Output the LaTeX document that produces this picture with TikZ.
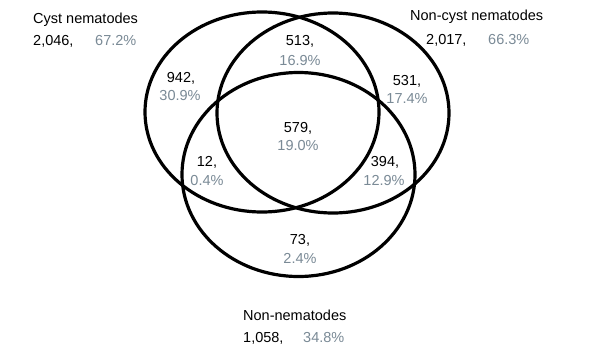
\documentclass[tikz,border=0pt]{standalone}
\usepackage{fontspec}
\setmainfont{Liberation Sans}
\definecolor{pctgrey}{RGB}{122,138,150}
\begin{document}
\begin{tikzpicture}[x=1pt,y=-1pt,
  setring/.style={draw=black,line width=3.2pt},
  lbl/.style={font=\fontsize{14.5}{17}\selectfont,inner sep=0pt,anchor=base},
  lblw/.style={lbl,anchor=base west},
  pct/.style={text=pctgrey}]
\useasboundingbox (0,0) rectangle (600,351);
\fill[white] (0,0) rectangle (600,351);
% sets
\draw[setring] (262,112) ellipse [x radius=117, y radius=100];
\draw[setring] (333,113) ellipse [x radius=116, y radius=100];
\draw[setring] (298.5,174.5) ellipse [x radius=116.5, y radius=102];
% set titles
\node[lblw] (tcyst) at (33,23) {Cyst nematodes};
\node[lblw] (ncyst) at (33,45) {2,046,};
\node[lblw,pct] (pcyst) at (95,45) {67.2\%};
\node[lblw] (tnon) at (410,20.5) {Non-cyst nematodes};
\node[lblw] (nnon) at (426,44) {2,017,};
\node[lblw,pct] (pnon) at (488,44) {66.3\%};
\node[lblw] (tnn) at (243,320) {Non-nematodes};
\node[lblw] (nnn) at (243,342) {1,058,};
\node[lblw,pct] (pnn) at (303,342) {34.8\%};
% regions
\node[lbl] (a1) at (300,45) {513,};
\node[lbl,pct] (a2) at (300,65) {16.9\%};
\node[lbl] (b1) at (181,82) {942,};
\node[lbl,pct] (b2) at (180,100) {30.9\%};
\node[lbl] (c1) at (407,85) {531,};
\node[lbl,pct] (c2) at (407,103) {17.4\%};
\node[lbl] (d1) at (298,132) {579,};
\node[lbl,pct] (d2) at (298,150) {19.0\%};
\node[lbl] (e1) at (207,166) {12,};
\node[lbl,pct] (e2) at (207,185) {0.4\%};
\node[lbl] (f1) at (385,166) {394,};
\node[lbl,pct] (f2) at (384,185) {12.9\%};
\node[lbl] (g1) at (300,244) {73,};
\node[lbl,pct] (g2) at (300,263) {2.4\%};
\end{tikzpicture}
\end{document}
